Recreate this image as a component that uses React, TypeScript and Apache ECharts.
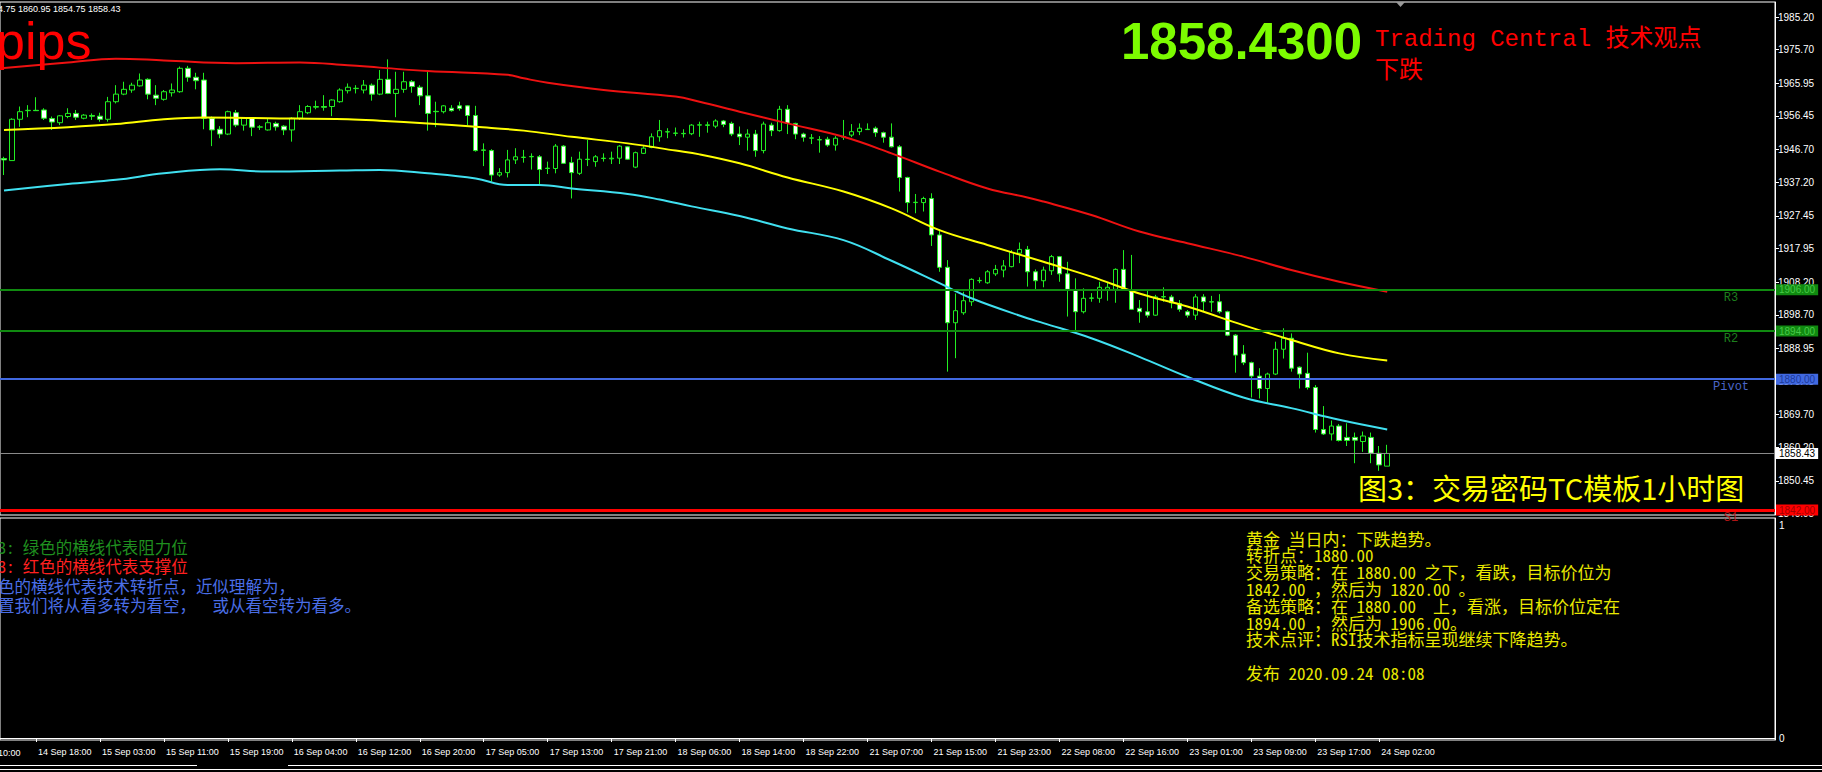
import React, { useEffect, useRef } from 'react';
import * as echarts from 'echarts';

// ---------- categories (hourly bars, XAUUSD H1, daily break at 00:00) ----------
const sessions: [string, number, number][] = [
  ['14 Sep', 14, 23], ['15 Sep', 1, 23], ['16 Sep', 1, 23], ['17 Sep', 1, 23], ['18 Sep', 1, 23],
  ['21 Sep', 1, 23], ['22 Sep', 1, 23], ['23 Sep', 1, 23], ['24 Sep', 1, 3],
];
const categories: string[] = [];
for (const [d, h0, h1] of sessions) for (let h = h0; h <= h1; h++) categories.push(`${d} ${String(h).padStart(2, '0')}:00`);
const futureSlots = 48; // empty chart-shift area on the right
const axisCategories = categories.concat(Array.from({ length: futureSlots }, (_, k) => `+${k + 1}`));

// ---------- candles: [open, close, low, high] ----------
const candles: number[][] = [
  [1944.1,1943.7,1939.3,1944.6],[1943.5,1955.5,1943.5,1955.8],[1955.5,1957.7,1953.3,1959.2],[1958.0,1958.1,1956.1,1959.6],
  [1958.1,1958.0,1958.0,1961.9],[1958.2,1955.8,1955.3,1958.7],[1955.7,1954.7,1952.4,1956.3],[1954.5,1956.5,1953.8,1956.7],
  [1956.3,1957.2,1955.8,1958.7],[1957.2,1956.1,1955.3,1958.2],[1955.8,1956.7,1955.5,1957.0],[1956.6,1956.4,1955.3,1957.2],
  [1956.4,1955.5,1954.8,1957.4],[1955.5,1960.6,1954.8,1962.0],[1960.6,1962.8,1960.1,1965.4],[1962.8,1964.2,1962.5,1966.4],
  [1964.0,1965.4,1963.2,1966.1],[1965.2,1966.9,1965.0,1968.8],[1967.1,1962.8,1961.3,1967.4],[1962.5,1961.6,1959.6,1965.4],
  [1961.3,1963.5,1960.9,1964.0],[1963.2,1964.0,1962.1,1965.9],[1963.5,1970.3,1963.2,1970.8],[1970.3,1967.7,1966.4,1971.0],
  [1967.7,1966.7,1964.2,1969.0],[1966.9,1955.8,1952.6,1969.0],[1955.8,1952.4,1947.7,1956.3],[1952.6,1951.2,1950.0,1953.5],
  [1951.2,1957.7,1950.9,1958.0],[1957.4,1953.8,1953.2,1958.2],[1953.8,1955.8,1952.2,1956.1],[1955.8,1953.2,1950.6,1956.1],
  [1953.2,1953.3,1952.4,1953.8],[1952.4,1954.5,1952.2,1955.8],[1954.3,1953.3,1952.2,1954.8],[1953.5,1952.4,1950.9,1953.8],
  [1952.4,1955.8,1949.0,1956.1],[1955.8,1957.7,1955.3,1959.6],[1957.4,1959.2,1957.0,1959.6],[1959.0,1959.2,1958.4,1960.9],
  [1959.2,1959.0,1958.0,1962.5],[1959.2,1961.1,1956.4,1961.3],[1960.6,1964.0,1960.3,1964.5],[1963.8,1964.8,1963.0,1965.9],
  [1964.4,1964.5,1963.0,1965.4],[1964.0,1965.4,1963.0,1966.9],[1965.4,1962.8,1960.9,1965.9],[1962.8,1967.1,1962.5,1969.8],
  [1967.1,1963.0,1962.8,1972.9],[1963.0,1964.2,1956.1,1969.3],[1964.2,1966.4,1963.2,1969.3],[1966.4,1965.0,1963.2,1966.9],
  [1964.8,1962.3,1959.6,1965.4],[1962.3,1957.2,1952.2,1969.8],[1957.8,1957.7,1953.2,1960.6],[1957.7,1959.4,1957.2,1959.6],
  [1958.7,1958.0,1957.7,1959.6],[1959.4,1958.6,1958.0,1960.6],[1959.4,1956.6,1953.8,1959.6],[1956.6,1946.4,1946.1,1959.4],
  [1946.6,1946.5,1941.9,1948.5],[1946.4,1939.3,1937.4,1946.8],[1939.3,1940.0,1938.8,1941.3],[1940.0,1943.7,1938.6,1946.6],
  [1943.7,1944.6,1942.5,1947.1],[1944.4,1944.5,1942.9,1946.6],[1944.6,1944.7,1940.9,1945.6],[1944.6,1940.9,1936.7,1945.1],
  [1941.3,1941.2,1939.6,1943.2],[1941.2,1947.7,1939.8,1948.3],[1947.7,1942.7,1942.5,1948.0],[1942.9,1940.0,1932.5,1944.6],
  [1939.8,1943.9,1939.3,1946.1],[1943.9,1943.8,1941.9,1949.5],[1943.2,1944.6,1941.7,1945.1],[1944.2,1944.1,1943.2,1945.6],
  [1944.0,1944.2,1942.5,1946.1],[1944.2,1947.7,1942.5,1948.0],[1947.5,1943.9,1943.7,1947.7],[1941.6,1945.8,1941.3,1946.1],
  [1945.6,1947.1,1945.4,1947.7],[1947.3,1950.4,1947.1,1951.4],[1950.4,1952.2,1949.0,1955.3],[1951.8,1951.9,1950.0,1952.9],
  [1951.4,1951.5,1950.6,1953.1],[1951.4,1951.3,1950.2,1952.6],[1951.3,1953.8,1950.9,1954.1],[1953.8,1953.9,1950.4,1954.8],
  [1953.7,1953.9,1951.6,1954.8],[1953.5,1955.0,1952.9,1955.5],[1955.0,1954.0,1953.2,1955.3],[1954.3,1951.2,1950.6,1954.8],
  [1951.2,1950.4,1948.0,1953.4],[1950.3,1951.2,1946.4,1952.6],[1951.2,1946.4,1944.6,1952.4],[1946.4,1954.1,1945.6,1954.8],
  [1953.8,1952.2,1950.6,1954.5],[1952.2,1958.4,1951.9,1959.4],[1958.4,1954.3,1951.2,1959.6],[1954.3,1951.2,1949.7,1954.5],
  [1951.2,1950.3,1949.0,1951.6],[1950.0,1950.1,1948.3,1951.2],[1949.5,1949.6,1945.8,1950.6],[1949.7,1948.0,1947.5,1950.4],
  [1948.0,1950.0,1946.4,1950.6],[1950.3,1950.5,1949.5,1955.3],[1950.9,1951.9,1950.3,1954.1],[1951.9,1952.9,1950.9,1954.3],
  [1952.5,1952.6,1952.4,1954.3],[1952.9,1951.6,1950.4,1953.4],[1951.6,1950.3,1948.7,1951.9],[1950.3,1947.5,1947.3,1954.3],
  [1947.5,1938.6,1934.5,1948.0],[1938.6,1931.3,1928.4,1938.8],[1931.3,1931.4,1928.2,1933.8],[1931.3,1932.5,1928.7,1933.0],
  [1932.5,1921.9,1918.7,1934.0],[1921.9,1912.5,1911.2,1923.5],[1912.5,1896.4,1882.2,1914.6],[1896.4,1899.9,1886.1,1904.9],
  [1899.3,1902.8,1898.7,1905.4],[1902.5,1909.0,1901.3,1909.3],[1908.6,1908.7,1907.9,1909.6],[1908.0,1911.2,1907.7,1911.7],
  [1910.6,1911.9,1910.0,1913.2],[1911.7,1912.9,1909.6,1914.6],[1912.7,1916.8,1912.5,1917.5],[1916.6,1917.7,1913.7,1919.7],
  [1917.7,1911.2,1906.9,1918.7],[1911.2,1908.6,1906.1,1911.9],[1908.6,1911.7,1906.7,1912.7],[1911.5,1915.6,1910.3,1916.1],
  [1915.6,1910.6,1908.3,1915.8],[1910.6,1906.1,1898.2,1914.1],[1905.9,1899.6,1894.3,1909.3],[1899.6,1903.5,1899.1,1906.4],
  [1903.5,1903.6,1902.5,1905.0],[1903.5,1906.7,1902.2,1908.3],[1906.1,1906.7,1902.8,1908.0],[1906.1,1911.9,1902.2,1912.2],
  [1911.9,1905.9,1905.7,1917.5],[1905.7,1900.3,1900.1,1916.1],[1900.6,1899.6,1896.4,1903.0],[1899.6,1898.6,1897.9,1905.9],
  [1898.6,1903.9,1898.4,1904.5],[1903.9,1904.0,1902.5,1906.7],[1903.9,1902.2,1900.6,1904.5],[1902.0,1900.3,1899.6,1903.0],
  [1899.6,1898.6,1897.9,1900.1],[1898.6,1903.9,1897.2,1904.7],[1903.9,1902.5,1899.6,1904.7],[1902.5,1902.4,1899.6,1904.2],
  [1902.5,1899.6,1899.1,1904.7],[1899.6,1892.8,1892.5,1899.9],[1892.8,1887.0,1881.9,1893.1],[1887.3,1884.8,1884.1,1889.9],
  [1884.8,1880.9,1874.7,1885.1],[1880.9,1877.3,1874.4,1883.2],[1877.3,1881.5,1873.2,1881.9],[1881.5,1888.7,1881.2,1890.9],
  [1888.7,1891.9,1886.0,1894.8],[1891.9,1883.2,1882.2,1893.3],[1883.5,1881.5,1877.3,1883.7],[1881.7,1877.6,1877.0,1887.7],
  [1877.6,1865.4,1864.5,1878.3],[1865.4,1864.1,1863.8,1872.2],[1864.1,1866.4,1862.2,1868.0],[1866.4,1862.2,1861.9,1867.0],
  [1863.1,1862.2,1860.6,1867.2],[1863.1,1862.3,1855.6,1864.5],[1861.9,1863.5,1858.9,1864.8],[1863.1,1858.5,1855.6,1864.5],
  [1858.5,1855.1,1853.4,1860.6],[1854.75,1858.43,1854.75,1860.95],
];

// ---------- moving-average style bands: [barIndex, price] ----------
const maRed: number[][] = [
  [0,1970.4],[8,1972.0],[14,1973.1],[20,1972.6],[29,1971.8],[37,1972.0],[43,1971.2],[47,1970.5],[53,1969.5],
  [63,1968.4],[65,1967.4],[68,1966.1],[75,1964.0],[84,1962.1],[87,1960.6],[92,1957.7],[98,1954.3],[105,1950.4],
  [111,1945.6],[117,1940.3],[123,1935.4],[128,1932.8],[130,1931.6],[136,1927.7],[142,1922.9],[148,1919.5],
  [155,1915.6],[161,1911.7],[167,1908.3],[173,1905.4],
];
const maYellow: number[][] = [
  [0,1952.4],[8,1953.2],[14,1954.1],[20,1955.5],[25,1956.0],[33,1955.8],[43,1955.5],[47,1955.1],[53,1954.3],
  [59,1953.3],[65,1952.2],[71,1950.4],[78,1948.5],[84,1946.4],[87,1945.3],[92,1942.7],[98,1938.6],[105,1934.5],
  [111,1929.6],[117,1923.3],[123,1919.0],[130,1914.1],[136,1909.8],[142,1904.9],[148,1901.1],[155,1895.7],
  [161,1891.4],[167,1887.5],[173,1885.4],
];
const maCyan: number[][] = [
  [0,1934.8],[8,1936.7],[14,1937.9],[20,1939.8],[27,1941.0],[33,1940.3],[42,1940.6],[47,1940.8],[53,1939.8],
  [59,1938.3],[63,1936.4],[67,1936.4],[71,1935.4],[78,1933.8],[82,1932.2],[86,1930.2],[92,1927.4],[98,1923.8],
  [105,1920.4],[111,1914.4],[117,1907.9],[121,1903.5],[128,1897.7],[130,1896.3],[136,1891.9],[142,1886.5],
  [148,1880.7],[155,1874.7],[161,1871.6],[167,1868.2],[173,1865.4],
];

// ---------- price axis ticks & levels ----------
const priceTicks = [1985.2, 1975.7, 1965.95, 1956.45, 1946.7, 1937.2, 1927.45, 1917.95, 1908.2, 1898.7, 1888.95, 1879.45, 1869.7, 1860.2, 1850.45, 1840.95];
const indicatorTicks = [0, 1];
const levelNames = ['R3', 'R2', 'Pivot', 'S1'];
const levelValues = [1906.0, 1894.0, 1880.0, 1842.0];
const levelTagSlot = 216; // category slot where the level names sit (chart-shift area)
const lastPrice = 1858.43;
const headerText = '4.75 1860.95 1854.75 1858.43';
const bigPrice = '1858.4300';
const tcTitle = 'Trading Central 技术观点';
const tcView = '下跌';
const figTitle = '图3：交易密码TC模板1小时图';
const legendLines = ['3: 绿色的横线代表阻力位', '3: 红色的横线代表支撑位', '色的横线代表技术转折点，近似理解为，', '置我们将从看多转为看空，  或从看空转为看多。'];
const analysisLines = [
  '黄金 当日内：下跌趋势。',
  '转折点：1880.00',
  '交易策略：在 1880.00 之下，看跌，目标价位为',
  '1842.00 ，然后为 1820.00 。',
  '备选策略：在 1880.00  上，看涨，目标价位定在',
  '1894.00 ，然后为 1906.00。',
  '技术点评：RSI技术指标呈现继续下降趋势。',
  '',
  '发布 2020.09.24 08:08',
];

const AXIS_FONT = "'Liberation Sans', Arial, sans-serif";
const CJK_FONT = "'Noto Sans Mono CJK SC', 'Noto Sans CJK SC', sans-serif";
const MONO_FONT = "'Liberation Mono', 'Noto Sans CJK SC', monospace";
const GREEN = '#22ee22';

const levelStyle: Record<string, any> = {
  R3: { line: '#108a10', width: 2, bg: '#108a10', text: '#48c848', tag: '#1d7f1d' },
  R2: { line: '#108a10', width: 2, bg: '#108a10', text: '#48c848', tag: '#1d7f1d' },
  Pivot: { line: '#4169e1', width: 2, bg: '#4169e1', text: '#1c3a9a', tag: '#4a66c8' },
  S1: { line: '#ff0000', width: 3, bg: '#ff0000', text: '#a00000', tag: '#b01515' },
};

const showLabel = (i: number) => i >= 4 && i <= 172 && (i - 4) % 8 === 0;

function buildOption(): any {
  const markData: any[] = [];
  const tagData: any[] = [];
  levelNames.forEach((n, k) => {
    const s = levelStyle[n];
    const v = levelValues[k];
    markData.push({
      yAxis: v,
      lineStyle: { color: s.line, width: s.width, type: 'solid' },
      label: { show: true, position: 'end', formatter: v.toFixed(2), backgroundColor: s.bg, color: s.text, fontSize: 10, fontFamily: AXIS_FONT, padding: [1, 3, 0, 3], distance: 1 },
    });
    tagData.push({
      coord: [levelTagSlot, v],
      symbol: 'rect', symbolSize: 1,
      itemStyle: { color: 'rgba(0,0,0,0)' },
      label: { show: true, position: 'inside', offset: [0, 8], formatter: n, color: s.tag, fontSize: 12, fontFamily: MONO_FONT, align: 'center', verticalAlign: 'middle' },
    });
  });
  markData.push({
    yAxis: lastPrice,
    lineStyle: { color: '#8a8a8a', width: 1, type: 'solid' },
    label: { show: true, position: 'end', formatter: lastPrice.toFixed(2), backgroundColor: '#ffffff', color: '#000000', fontSize: 10, fontFamily: AXIS_FONT, padding: [1, 3, 0, 3], distance: 1 },
  });

  const textEl = (text: string, x: number, y: number, fill: string, fontSize: number, fontFamily: string, extra: any = {}) => ({
    type: 'text', x, y, silent: true, z: 100,
    style: { text, fill, fontSize, fontFamily, verticalAlign: 'middle', align: 'left', ...extra },
  });

  const graphics: any[] = [
    textEl(headerText, -2, 9, '#ffffff', 9, AXIS_FONT),
    textEl('pips', -4, 41, '#ff0000', 52, AXIS_FONT),
    textEl(bigPrice, 1121, 41, '#7cfc00', 51, AXIS_FONT, { fontWeight: 'bold' }),
    textEl(tcTitle, 1375, 39, '#ff0000', 24, MONO_FONT),
    textEl(tcView, 1375, 71, '#ff0000', 24, MONO_FONT),
    textEl(figTitle, 1358, 487, '#ffff00', 29, "'Noto Sans CJK SC', sans-serif"),
    textEl('14 Sep 10:00', -33, 753, '#ffffff', 9, AXIS_FONT),
    { type: 'polygon', silent: true, z: 100, shape: { points: [[1396, 2], [1405, 2], [1400.5, 7]] }, style: { fill: '#9a9a9a' } },
    { type: 'line', silent: true, z: 100, shape: { x1: 0, y1: 765.5, x2: 197, y2: 765.5 }, style: { stroke: '#ffffff', lineWidth: 1 } },
    { type: 'line', silent: true, z: 100, shape: { x1: 288, y1: 765.5, x2: 1822, y2: 765.5 }, style: { stroke: '#ffffff', lineWidth: 1 } },
    { type: 'line', silent: true, z: 100, shape: { x1: 0, y1: 769.5, x2: 1822, y2: 769.5 }, style: { stroke: '#ffffff', lineWidth: 1 } },
  ];
  const legendColors = ['#1f8f1f', '#ff2020', '#4a6ee6', '#4a6ee6'];
  legendLines.forEach((t, k) => graphics.push(textEl(t, k < 2 ? -2 : -2, 547 + k * 19.4, legendColors[k], 16.5, CJK_FONT)));
  analysisLines.forEach((t, k) => { if (t) graphics.push(textEl(t, 1246, 538 + k * 16.8, '#e8e800', 17, CJK_FONT)); });

  return {
    animation: false,
    backgroundColor: '#000000',
    grid: [
      { left: -1, right: 47, top: 2, height: 513, show: true, borderColor: '#ffffff', borderWidth: 1, backgroundColor: '#000000' },
      { left: -1, right: 47, top: 518, height: 222, show: true, borderColor: '#ffffff', borderWidth: 1, backgroundColor: '#000000' },
    ],
    xAxis: [
      { type: 'category', gridIndex: 0, data: axisCategories, boundaryGap: true, show: false },
      {
        type: 'category', gridIndex: 1, data: axisCategories, boundaryGap: true,
        axisLine: { show: true, lineStyle: { color: '#ffffff' } },
        axisTick: { show: true, alignWithLabel: true, interval: showLabel, length: 4, lineStyle: { color: '#ffffff' } },
        axisLabel: { show: true, interval: showLabel, align: 'left', color: '#ffffff', fontSize: 9, fontFamily: AXIS_FONT, margin: 7, padding: [0, 0, 0, 2] },
        splitLine: { show: false },
      },
    ],
    yAxis: [
      {
        type: 'value', gridIndex: 0, position: 'right', min: 1840.56, max: 1989.56, scale: true,
        axisLine: { show: true, lineStyle: { color: '#ffffff' } },
        axisTick: { show: true, length: 4, customValues: priceTicks, lineStyle: { color: '#ffffff' } },
        axisLabel: { show: true, customValues: priceTicks, formatter: (v: number) => v.toFixed(2), color: '#ffffff', fontSize: 10, fontFamily: AXIS_FONT, margin: 3 },
        splitLine: { show: false },
      },
      {
        type: 'value', gridIndex: 1, position: 'right', min: -0.0094, max: 1.0377,
        axisLine: { show: true, lineStyle: { color: '#ffffff' } },
        axisTick: { show: false, customValues: indicatorTicks },
        axisLabel: { show: true, customValues: indicatorTicks, color: '#ffffff', fontSize: 10, fontFamily: AXIS_FONT, margin: 4 },
        splitLine: { show: false },
      },
    ],
    series: [
      {
        type: 'candlestick', xAxisIndex: 0, yAxisIndex: 0, data: candles, barWidth: 5,
        itemStyle: { color: '#000000', color0: '#ffffff', borderColor: GREEN, borderColor0: GREEN, borderWidth: 1 },
        emphasis: { disabled: true },
        markLine: { silent: true, symbol: ['none', 'none'], animation: false, data: markData },
        markPoint: { silent: true, animation: false, data: tagData },
        z: 3,
      },
      { type: 'line', xAxisIndex: 0, yAxisIndex: 0, data: maRed, showSymbol: false, smooth: 0.4, lineStyle: { color: '#ee1111', width: 2 }, z: 4 },
      { type: 'line', xAxisIndex: 0, yAxisIndex: 0, data: maYellow, showSymbol: false, smooth: 0.4, lineStyle: { color: '#ffff00', width: 2 }, z: 4 },
      { type: 'line', xAxisIndex: 0, yAxisIndex: 0, data: maCyan, showSymbol: false, smooth: 0.4, lineStyle: { color: '#40e0f0', width: 2 }, z: 4 },
    ],
    graphic: graphics,
  };
}

export default function App() {
  const ref = useRef<HTMLDivElement>(null);
  useEffect(() => {
    if (!ref.current) return;
    const chart = echarts.init(ref.current, undefined, { renderer: 'svg' });
    chart.setOption(buildOption());
    return () => chart.dispose();
  }, []);
  return <div ref={ref} style={{ position: 'fixed', left: 0, top: 0, width: 1822, height: 772, background: '#000' }} />;
}
